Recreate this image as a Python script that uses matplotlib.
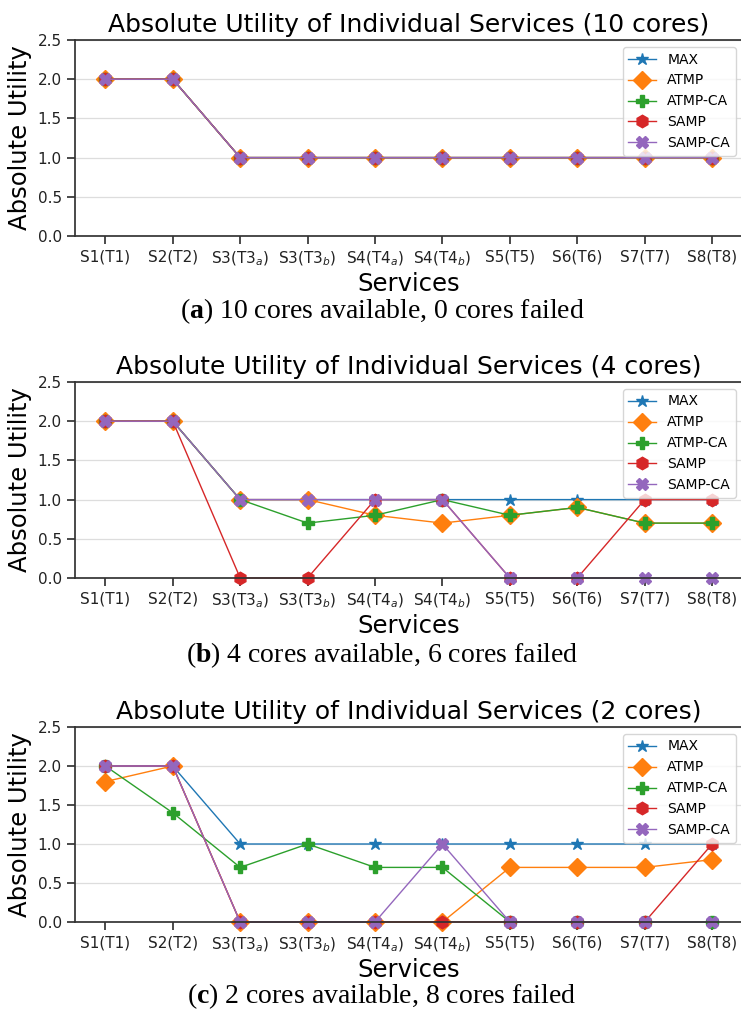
"""Absolute utility of individual services under core failures."""

import matplotlib as mpl
import matplotlib.pyplot as plt

SERVICES = ["S1(T1)", "S2(T2)", "S3(T3$_a$)", "S3(T3$_b$)", "S4(T4$_a$)",
            "S4(T4$_b$)", "S5(T5)", "S6(T6)", "S7(T7)", "S8(T8)"]
METHODS = ["MAX", "ATMP", "ATMP-CA", "SAMP", "SAMP-CA"]

# 10 cores available
MAX_10 = [2.0, 2.0, 1.0, 1.0, 1.0, 1.0, 1.0, 1.0, 1.0, 1.0]
ATMP_10 = [2.0, 2.0, 1.0, 1.0, 1.0, 1.0, 1.0, 1.0, 1.0, 1.0]
ATMP_CA_10 = [2.0, 2.0, 1.0, 1.0, 1.0, 1.0, 1.0, 1.0, 1.0, 1.0]
SAMP_10 = [2.0, 2.0, 1.0, 1.0, 1.0, 1.0, 1.0, 1.0, 1.0, 1.0]
SAMP_CA_10 = [2.0, 2.0, 1.0, 1.0, 1.0, 1.0, 1.0, 1.0, 1.0, 1.0]

# 4 cores available
MAX_4 = [2.0, 2.0, 1.0, 1.0, 1.0, 1.0, 1.0, 1.0, 1.0, 1.0]
ATMP_4 = [2.0, 2.0, 1.0, 1.0, 0.8, 0.7, 0.8, 0.9, 0.7, 0.7]
ATMP_CA_4 = [2.0, 2.0, 1.0, 0.7, 0.8, 1.0, 0.8, 0.9, 0.7, 0.7]
SAMP_4 = [2.0, 2.0, 0.0, 0.0, 1.0, 1.0, 0.0, 0.0, 1.0, 1.0]
SAMP_CA_4 = [2.0, 2.0, 1.0, 1.0, 1.0, 1.0, 0.0, 0.0, 0.0, 0.0]

# 2 cores available
MAX_2 = [2.0, 2.0, 1.0, 1.0, 1.0, 1.0, 1.0, 1.0, 1.0, 1.0]
ATMP_2 = [1.8, 2.0, 0.0, 0.0, 0.0, 0.0, 0.7, 0.7, 0.7, 0.8]
ATMP_CA_2 = [2.0, 1.4, 0.7, 1.0, 0.7, 0.7, 0.0, 0.0, 0.0, 0.0]
SAMP_2 = [2.0, 2.0, 0.0, 0.0, 0.0, 0.0, 0.0, 0.0, 0.0, 1.0]
SAMP_CA_2 = [2.0, 2.0, 0.0, 0.0, 0.0, 1.0, 0.0, 0.0, 0.0, 0.0]

CORES = [10, 4, 2]
FAILED = [0, 6, 8]
LETTERS = ["a", "b", "c"]
PANELS = [
    [MAX_10, ATMP_10, ATMP_CA_10, SAMP_10, SAMP_CA_10],
    [MAX_4, ATMP_4, ATMP_CA_4, SAMP_4, SAMP_CA_4],
    [MAX_2, ATMP_2, ATMP_CA_2, SAMP_2, SAMP_CA_2],
]

MARKERS = ["*", "D", "P", "h", "X"]
COLORS = ["#1f77b4", "#ff7f0e", "#2ca02c", "#d62728", "#9467bd"]
INK = "#333333"
GRID = "#dddddd"

W, H = 741, 1010
# axes top/bottom in pixels, caption centre in pixels
AX_ROWS = [(40, 236, 311), (382, 578, 655), (727, 922, 996)]
AX_LEFT = 75


def setup_style():
    mpl.rcParams.update({
        "font.family": "DejaVu Sans",
        "mathtext.fontset": "custom",
        "mathtext.rm": "DejaVu Sans",
        "mathtext.it": "DejaVu Sans:italic",
        "mathtext.bf": "Liberation Serif:bold",
        "axes.edgecolor": INK,
        "axes.linewidth": 1.25,
        "xtick.color": INK,
        "ytick.color": INK,
        "xtick.labelcolor": "#222222",
        "ytick.labelcolor": "#222222",
        "xtick.major.width": 1.25,
        "ytick.major.width": 1.25,
        "xtick.major.size": 6,
        "ytick.major.size": 6,
        "xtick.labelsize": 11,
        "ytick.labelsize": 11,
        "text.color": "black",
    })


def draw_panel(fig, row, series):
    top, bottom, cap_y = AX_ROWS[row]
    ax = fig.add_axes([AX_LEFT / W, 1 - bottom / H, 1.002 - AX_LEFT / W, (bottom - top) / H])
    xs = range(len(SERVICES))
    for name, values, marker, color in zip(METHODS, series, MARKERS, COLORS):
        ax.plot(xs, values, marker=marker, color=color, label=name, lw=1.0, ms=9, clip_on=False)
    ax.set_ylim(0, 2.5)
    ax.set_yticks([0.0, 0.5, 1.0, 1.5, 2.0, 2.5])
    ax.set_xlim(-0.45, 9.45)
    ax.set_xticks(list(xs))
    ax.set_xticklabels(SERVICES)
    ax.grid(axis="y", color=GRID, lw=0.9)
    ax.set_axisbelow(True)
    ax.set_ylabel("Absolute Utility", fontsize=17.5)
    ax.set_xlabel("Services", fontsize=17.5, labelpad=3)
    ax.set_title(f"Absolute Utility of Individual Services ({CORES[row]} cores)", fontsize=18)
    ax.legend(loc="upper right", fontsize=10)
    fig.text(
        382 / W, 1 - cap_y / H,
        f"($\\mathbf{{{LETTERS[row]}}}$) {CORES[row]} cores available, {FAILED[row]} cores failed",
        family="Liberation Serif", fontsize=20, ha="center", va="center",
    )


def main():
    setup_style()
    fig = plt.figure(figsize=(W / 100, H / 100), dpi=100)
    for row, series in enumerate(PANELS):
        draw_panel(fig, row, series)
    fig.savefig("out.png", dpi=100)
    plt.close(fig)


if __name__ == "__main__":
    main()
